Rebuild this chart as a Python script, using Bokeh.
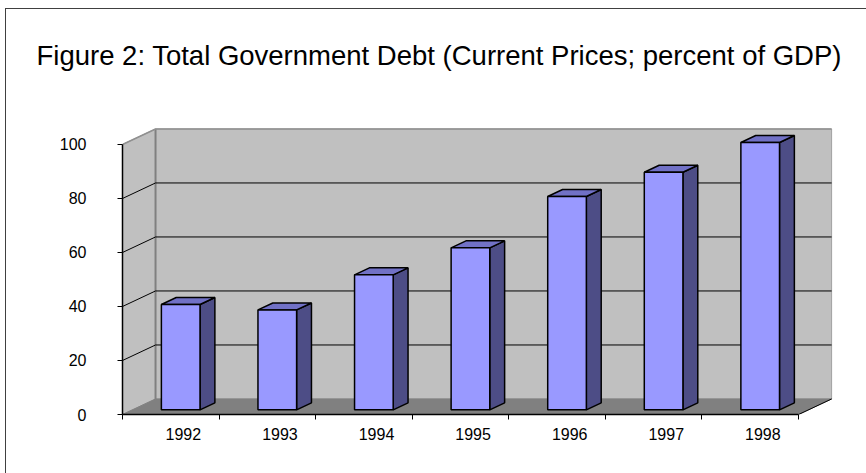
import numpy as np
from bokeh.plotting import figure
from bokeh.models import Range1d, FixedTicker, CustomJSTickFormatter, Title
from bokeh.embed import file_html
from bokeh.resources import INLINE

# ---- data ----
years = ["1992", "1993", "1994", "1995", "1996", "1997", "1998"]
debt = [39, 37, 50, 60, 79, 88, 99]
y_ticks = [0, 20, 40, 60, 80, 100]
title_text = "Figure 2: Total Government Debt (Current Prices; percent of GDP)"

# ---- pseudo-3D geometry (data units) ----
N = len(years)
DX = 0.342        # depth offset along x (category units)
DY = 5.75         # depth offset along y (value units)
F1 = 0.30         # depth of bar front face (fraction of total depth)
BD = 0.45         # bar depth (fraction of total depth)
BW = 0.40         # bar width (category units)
LABEL_SHIFT = 0.13
Y_MAX = 100

FONT = "Liberation Sans"

p = figure(width=866, height=473, title=None,
           x_range=Range1d(0, N + DX + 0.03), y_range=Range1d(0, 107.4),
           output_backend="svg", toolbar_location=None,
           min_border_left=122, min_border_right=32,
           min_border_top=124, min_border_bottom=59)
p.grid.visible = False
p.outline_line_color = None
p.background_fill_color = None
p.border_fill_color = None

# outer chart-area border (drawn as the element's CSS background)
p.styles = {
    "background": ("linear-gradient(#404040, #404040) 5px 8px / 2000px 1px no-repeat, "
                   "linear-gradient(#404040, #404040) 5px 8px / 1px 2000px no-repeat, white"),
}

# title: a spacer next to the frame, then the real title above it
p.add_layout(Title(text=" ", text_font_size="1px", standoff=51), "above")
p.add_layout(Title(text=title_text, text_font=FONT, text_font_size="27.5px",
                   text_font_style="normal", text_color="black",
                   align="left", offset=-86, standoff=0), "above")

# walls
back_x = [DX, N + DX, N + DX, DX]
back_y = [DY, DY, Y_MAX + DY, Y_MAX + DY]
side_x = [0, DX, DX, 0]
side_y = [0, DY, Y_MAX + DY, Y_MAX]
floor_x = [0, N, N + DX, DX]
floor_y = [0, 0, DY, DY]
p.patch(back_x, back_y, fill_color="#C0C0C0", line_color="#A0A0A0", line_width=1)
p.patch(side_x, side_y, fill_color="#C0C0C0", line_color="#A0A0A0", line_width=1)
p.patch(floor_x, floor_y, fill_color="#808080", line_color="#808080", line_width=1)
# back-left vertical edge and top edges
p.line([DX, DX], [DY, Y_MAX + DY], line_color="#808080", line_width=2)
p.line([0, DX, N + DX], [Y_MAX, Y_MAX + DY, Y_MAX + DY], line_color="#909090", line_width=1.5)
# floor right edge
p.line([N, N + DX], [0, DY], line_color="black", line_width=1)

# gridlines on walls
gx, gy = [], []
for v in y_ticks[1:-1]:
    gx.append([0, DX, N + DX])
    gy.append([v, v + DY, v + DY])
p.multi_line(gx, gy, line_color="black", line_width=1)

# bars
centers = np.arange(N) + 0.5
xl = centers - BW / 2 + F1 * DX
xr = centers + BW / 2 + F1 * DX
yb = np.full(N, F1 * DY)
yt = np.array(debt, dtype=float) + F1 * DY
ddx, ddy = BD * DX, BD * DY

side_xs = [[r, r + ddx, r + ddx, r] for r in xr]
side_ys = [[b, b + ddy, t + ddy, t] for b, t in zip(yb, yt)]
top_xs = [[l, r, r + ddx, l + ddx] for l, r in zip(xl, xr)]
top_ys = [[t, t, t + ddy, t + ddy] for t in yt]

p.patches(side_xs, side_ys, fill_color="#4D4D86", line_color="black", line_width=1.5)
p.patches(top_xs, top_ys, fill_color="#7171C6", line_color="black", line_width=1.5)
p.quad(left=xl, right=xr, bottom=yb, top=yt, fill_color="#9999FF", line_color="black", line_width=1.5)

# axes
xa = p.xaxis[0]
xa.ticker = FixedTicker(ticks=list(centers + LABEL_SHIFT), minor_ticks=list(range(N + 1)))
xa.formatter = CustomJSTickFormatter(args=dict(labels=years, shift=0.5 + LABEL_SHIFT),
                                     code="const i = Math.round(tick - shift); return (i >= 0 && i < labels.length) ? labels[i] : '';")
xa.bounds = (0, N)
xa.major_tick_out = 0
xa.major_tick_in = 0
xa.minor_tick_out = 5
xa.minor_tick_in = 0
xa.minor_tick_line_color = "black"
xa.axis_line_color = "black"
xa.axis_line_width = 1.5
xa.major_label_standoff = 8
xa.major_label_text_font = FONT
xa.major_label_text_font_size = "16px"
xa.major_label_text_color = "black"

ya = p.yaxis[0]
ya.ticker = FixedTicker(ticks=y_ticks)
ya.bounds = (0, Y_MAX)
ya.major_tick_out = 5
ya.major_tick_in = 0
ya.minor_tick_line_color = None
ya.major_tick_line_color = "black"
ya.axis_line_color = "black"
ya.axis_line_width = 1.5
ya.major_label_standoff = 31
ya.major_label_text_font = FONT
ya.major_label_text_font_size = "16px"
ya.major_label_text_color = "black"

open("out.html", "w").write(file_html(p, INLINE))
